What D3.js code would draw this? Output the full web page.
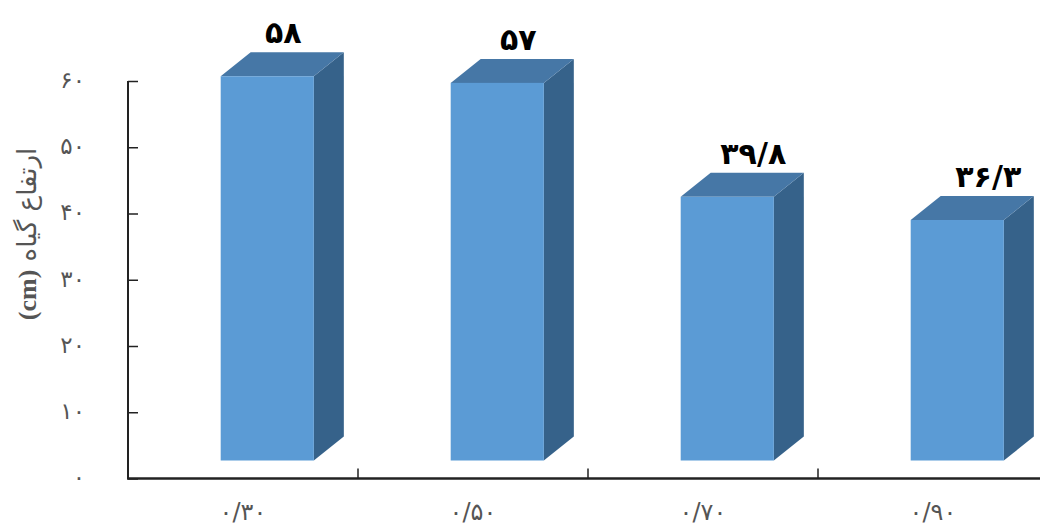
<!DOCTYPE html>
<html>
<head>
<meta charset="utf-8">
<script src="https://cdn.jsdelivr.net/npm/d3@7"></script>
<style>
  html, body { margin: 0; padding: 0; background: #fff; }
  svg { display: block; }
</style>
</head>
<body>
<svg id="chart" width="1040" height="531"></svg>
<script>
const categories = ["۰/۳۰", "۰/۵۰", "۰/۷۰", "۰/۹۰"];
const values = [58, 57, 39.8, 36.3];
const valueLabels = ["۵۸", "۵۷", "۳۹/۸", "۳۶/۳"];
const yTicks = [0, 10, 20, 30, 40, 50, 60];
const yTickLabels = ["۰", "۱۰", "۲۰", "۳۰", "۴۰", "۵۰", "۶۰"];
const yTitle = "ارتفاع گیاه ";
const yTitleUnit = "(cm)";

const svg = d3.select("#chart");
const axisX = 128, axisY = 478.5, topY = 81;

const x = d3.scaleBand().domain(categories).range([axisX, axisX + 920]).padding(0);
const y = d3.scaleLinear().domain([0, 60]).range([axisY, topY]);

const bw = x.bandwidth();
const frontOff = bw * 0.403, frontW = bw * 0.405;
const dx = 30, dy = -24, lift = 18;

const colFront = "#5b9bd5", colTop = "#4677a6", colSide = "#36628a";

const g = svg.append("g");
const bars = g.selectAll("g.bar").data(values.map((v, i) => ({v, i, c: categories[i], lab: valueLabels[i]})))
  .enter().append("g").attr("class", "bar");

bars.each(function(d) {
  const sel = d3.select(this);
  const x0 = x(d.c) + frontOff, x1 = x0 + frontW;
  const yb = y(0) - lift, yt = y(d.v) - lift;
  sel.append("path")
    .attr("d", `M${x1},${yt} L${x1 + dx},${yt + dy} L${x1 + dx},${yb + dy} L${x1},${yb} Z`)
    .attr("fill", colSide);
  sel.append("path")
    .attr("d", `M${x0},${yt} L${x0 + dx},${yt + dy} L${x1 + dx},${yt + dy} L${x1},${yt} Z`)
    .attr("fill", colTop);
  sel.append("rect")
    .attr("x", x0).attr("y", yt).attr("width", frontW).attr("height", yb - yt)
    .attr("fill", colFront);
  sel.append("text")
    .attr("x", (x0 + x1 + dx) / 2 + 1 + 5 * d.i)
    .attr("y", yt + dy - 9)
    .attr("text-anchor", "middle")
    .attr("font-family", "DejaVu Sans")
    .attr("font-weight", "bold")
    .attr("font-size", 30)
    .attr("fill", "#000")
    .text(d.lab);
});

// Y axis
const yAxis = d3.axisRight(y).tickValues(yTicks).tickSize(10).tickFormat(() => "");
const ya = svg.append("g").attr("transform", `translate(${axisX},0)`).call(yAxis);
ya.select(".domain").attr("d", `M0,${topY}V${axisY}`).attr("stroke", "#222").attr("stroke-width", 2);
ya.selectAll(".tick line").attr("stroke", "#222").attr("stroke-width", 1.5);

svg.append("g").selectAll("text").data(yTicks).enter().append("text")
  .attr("x", 85).attr("y", d => y(d))
  .attr("dy", "0.3em")
  .attr("text-anchor", "end")
  .attr("font-family", "DejaVu Sans")
  .attr("font-size", 23)
  .attr("fill", "#555")
  .text((d, i) => yTickLabels[i]);

// X axis
const xAxis = d3.axisTop(x).tickSize(0).tickFormat(() => "");
const xa = svg.append("g").attr("transform", `translate(0,${axisY})`).call(xAxis);
xa.select(".domain").attr("d", `M${axisX - 1},0H1040`).attr("stroke", "#222").attr("stroke-width", 2.5);
xa.selectAll(".tick").remove();
xa.selectAll("line.sep").data(categories.slice(1)).enter().append("line")
  .attr("class", "sep")
  .attr("x1", d => x(d)).attr("x2", d => x(d))
  .attr("y1", 0).attr("y2", -10)
  .attr("stroke", "#222").attr("stroke-width", 1.5);

svg.append("g").selectAll("text").data(categories).enter().append("text")
  .attr("x", d => x(d) + bw / 2)
  .attr("y", 520)
  .attr("text-anchor", "middle")
  .attr("font-family", "DejaVu Sans")
  .attr("font-size", 24)
  .attr("fill", "#555")
  .text(d => d);

// Y title
const t = svg.append("text")
  .attr("transform", "translate(36,234) rotate(-90)")
  .attr("text-anchor", "middle")
  .attr("direction", "rtl")
  .attr("font-family", "DejaVu Sans")
  .attr("font-size", 26)
  .attr("fill", "#555");
t.append("tspan").text(yTitle);
t.append("tspan").attr("font-weight", "bold").attr("font-family", "Liberation Serif").text(yTitleUnit);
</script>
</body>
</html>
